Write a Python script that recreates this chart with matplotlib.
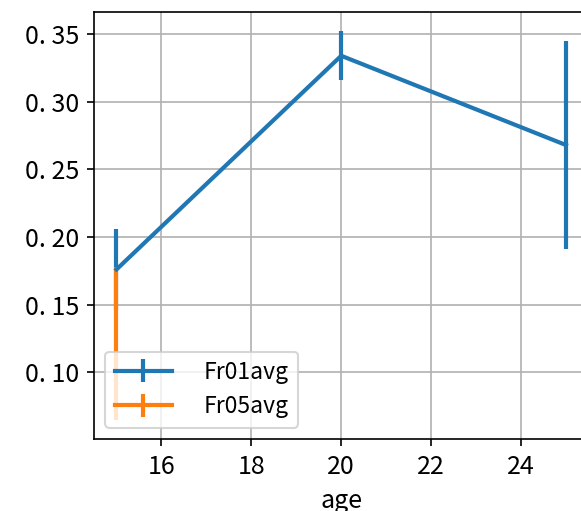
import matplotlib
matplotlib.use("Agg")
import matplotlib.pyplot as plt
import numpy as np

plt.rcParams['font.family'] = ['Noto Sans CJK JP', 'DejaVu Sans']
plt.rcParams['font.size'] = 12
plt.rcParams['lines.linewidth'] = 2.0

age = [15, 20, 25]
fr01_mean = [0.176, 0.334, 0.268]
fr01_err = [0.030, 0.018, 0.077]
fr05_mean = [0.1215, np.nan, np.nan]
fr05_err = [0.0565, np.nan, np.nan]

fig = plt.figure(figsize=(581/150, 511/150), dpi=150)
ax = fig.add_axes([0.1618, 0.1409, 0.851, 0.8356])

ax.errorbar(age, fr01_mean, yerr=fr01_err, color='#1f77b4', label='Fr01avg')
ax.errorbar(age, fr05_mean, yerr=fr05_err, color='#ff7f0e', label='Fr05avg')

ax.grid(True)
ax.set_xlabel('age')
ax.set_xticks([16, 18, 20, 22, 24])
ax.set_yticks([0.10, 0.15, 0.20, 0.25, 0.30, 0.35])
ax.set_yticklabels(['0. 10', '0. 15', '0. 20', '0. 25', '0. 30', '0. 35'])
ax.legend(loc='lower left', handletextpad=1.4, handlelength=2.5, fontsize=11)

fig.savefig('out.png', dpi=150)
